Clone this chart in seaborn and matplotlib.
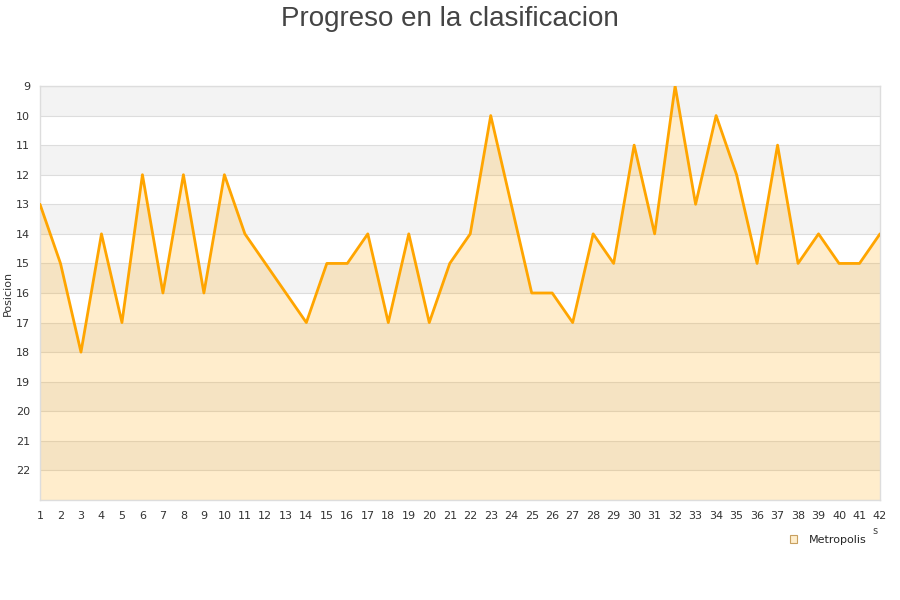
import numpy as np
import pandas as pd
import matplotlib
matplotlib.use("Agg")
import matplotlib.pyplot as plt
import seaborn as sns
from matplotlib.patches import Patch

# data
jornadas = list(range(1, 43))
posicion = [13, 15, 18, 14, 17, 12, 16, 12, 16, 12,
            14, 15, 16, 17, 15, 15, 14, 17, 14, 17,
            15, 14, 10, 13, 16, 16, 17, 14, 15, 11,
            14, 9, 13, 10, 12, 15, 11, 15, 14, 15,
            15, 14]
equipo = "Metropolis"
y_ticks = list(range(9, 23))

sns.set_style("white")
plt.rcParams['font.family'] = ['DejaVu Sans']

df = pd.DataFrame({"Jornada": jornadas, "Posicion": posicion})

fig = plt.figure(figsize=(9, 6), dpi=100)
ax = fig.add_axes([40 / 900, 100 / 600, 840 / 900, 414 / 600])

# alternating bands
for start in range(9, 23, 2):
    ax.axhspan(start, start + 1, color="#f3f3f3", zorder=0, lw=0)
for y in range(9, 24):
    ax.axhline(y, color="#dddddd", lw=0.8, zorder=1)

ax.fill_between(df["Jornada"], df["Posicion"], 23, color="#ffa500",
                alpha=0.2, lw=0, zorder=2)
sns.lineplot(data=df, x="Jornada", y="Posicion", color="#ffa500",
             lw=2.0, ax=ax, zorder=3)

ax.set_xlim(1, 42)
ax.set_ylim(23, 9)
ax.set_xticks(jornadas)
ax.set_yticks(y_ticks)
ax.tick_params(axis="both", labelsize=8, colors="#333333", length=0)
ax.tick_params(axis="x", pad=8)
ax.tick_params(axis="y", pad=7)
ax.set_xlabel("")
ax.set_ylabel("Posicion", fontsize=8, color="#333333", labelpad=2)
for s in ax.spines.values():
    s.set_color("#dddddd")
    s.set_linewidth(1)

fig.suptitle("Progreso en la clasificacion", y=0.99, fontsize=20,
             color="#444444", family=["Liberation Sans", "DejaVu Sans"])

handle = Patch(facecolor="#ffeecc", edgecolor="#c8a060", lw=0.8, label=equipo)
fig.legend(handles=[handle], loc="center", bbox_to_anchor=(828 / 900, 1 - 540 / 600),
           frameon=False, fontsize=8, handlelength=0.7, handleheight=0.7,
           handletextpad=1.0)
fig.text(875 / 900, 1 - 531 / 600, "s", fontsize=7, color="#444444",
         ha="center", va="center")

fig.savefig("out.png", dpi=100)
